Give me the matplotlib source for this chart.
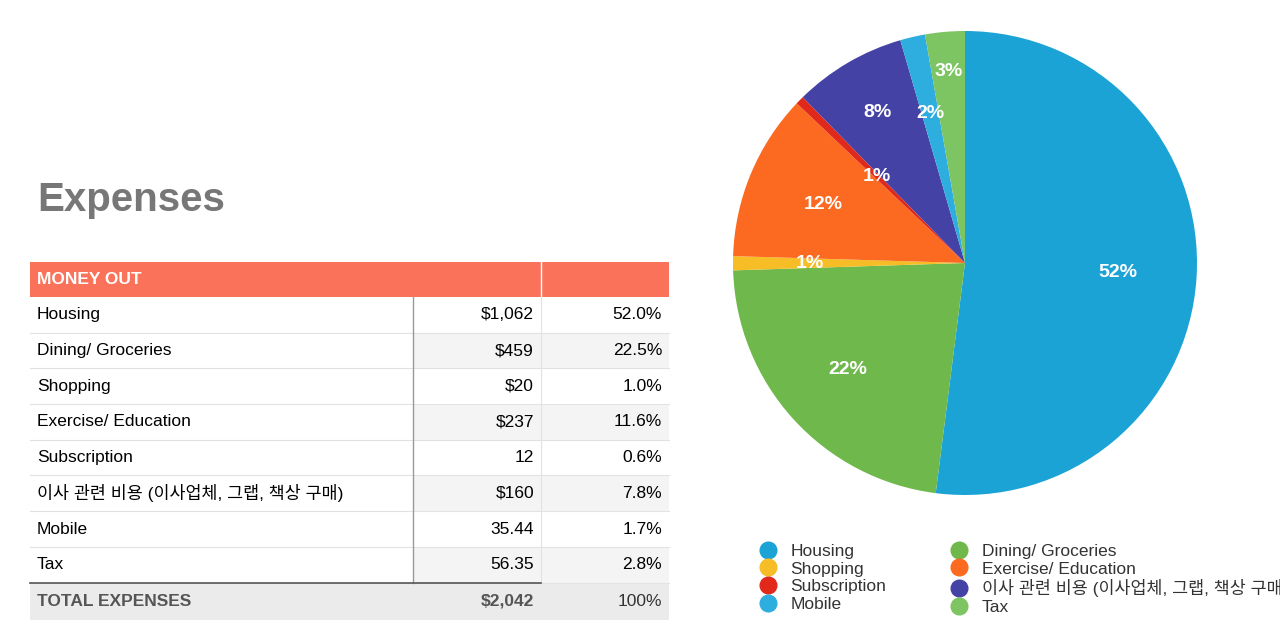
import matplotlib
matplotlib.use("Agg")
import numpy as np
import matplotlib.pyplot as plt
from matplotlib.patches import Rectangle
from matplotlib.lines import Line2D

plt.rcParams['font.family'] = ['Liberation Sans', 'Noto Sans CJK KR']

categories = ['Housing', 'Dining/ Groceries', 'Shopping', 'Exercise/ Education',
              'Subscription', '이사 관련 비용 (이사업체, 그랩, 책상 구매)', 'Mobile', 'Tax']
values = [1062, 459, 20, 237, 12, 160, 35.44, 56.35]
amount_text = ['$1,062', '$459', '$20', '$237', '12', '$160', '35.44', '56.35']
pct_text = ['52.0%', '22.5%', '1.0%', '11.6%', '0.6%', '7.8%', '1.7%', '2.8%']
colors = ['#1ba3d6', '#6fb84b', '#f6bd27', '#fc6a21', '#e0291b', '#4542a6', '#2eaddf', '#7dc462']

fig = plt.figure(figsize=(12.8, 6.42), dpi=100)

# ---- table / title in pixel coordinates ----
tab = fig.add_axes([0, 0, 1, 1])
tab.set_xlim(0, 1280)
tab.set_ylim(642, 0)
tab.axis('off')

tab.text(37, 200, 'Expenses', fontsize=29, fontweight='bold', color='#777777', va='center')

x0, x1, x2, x3 = 30, 413, 541, 669
top = 262
hh = 35
rh = 35.7
tab.add_patch(Rectangle((x0, top), x3 - x0, hh, color='#fb725b', lw=0))
tab.plot([x2, x2], [top, top + hh], color='white', lw=1)
tab.text(x0 + 7, top + hh / 2, 'MONEY OUT', color='white', fontweight='bold',
         fontsize=12.5, va='center')
y = top + hh
for i, (c, a, p) in enumerate(zip(categories, amount_text, pct_text)):
    if i % 2 == 1:
        tab.add_patch(Rectangle((x1, y), x3 - x1, rh, color='#f4f4f4', lw=0))
    tab.plot([x0, x3], [y + rh, y + rh], color='#e2e2e2', lw=0.8)
    tab.text(x0 + 7, y + rh / 2, c, fontsize=12.5, va='center', color='black')
    tab.text(x2 - 7, y + rh / 2, a, fontsize=12.5, va='center', ha='right')
    tab.text(x3 - 7, y + rh / 2, p, fontsize=12.5, va='center', ha='right')
    y += rh
tab.plot([x1, x1], [top + hh, y], color='#999999', lw=1)
tab.plot([x2, x2], [top + hh, y], color='#e2e2e2', lw=0.8)
tab.add_patch(Rectangle((x0, y), x3 - x0, 37, color='#ebebeb', lw=0))
tab.plot([x0, x2], [y, y], color='#555555', lw=1.2)
tab.text(x0 + 7, y + 18.5, 'TOTAL EXPENSES', fontsize=12.5, fontweight='bold',
         va='center', color='#555555')
tab.text(x2 - 7, y + 18.5, '$2,042', fontsize=12.5, fontweight='bold',
         va='center', ha='right', color='#555555')
tab.text(x3 - 7, y + 18.5, '100%', fontsize=12.5, va='center', ha='right', color='#333333')

# ---- pie ----
r = 232
cx, cy = 965, 263
pie_ax = fig.add_axes([(cx - r) / 1280, 1 - (cy + r) / 642, 2 * r / 1280, 2 * r / 642])
wedges, _ = pie_ax.pie(values, colors=colors, startangle=90, counterclock=False)
pie_ax.set_xlim(-1, 1)
pie_ax.set_ylim(-1, 1)
pie_ax.set_aspect('equal')
total = sum(values)
label_r = [0.66, 0.68, 0.67, 0.66, 0.53, 0.75, 0.66, 0.83]
for w, v, lr in zip(wedges, values, label_r):
    ang = np.deg2rad((w.theta1 + w.theta2) / 2)
    pie_ax.text(lr * np.cos(ang), lr * np.sin(ang), f'{v / total * 100:.0f}%',
                color='white', fontweight='bold', fontsize=14, ha='center', va='center')

# legend row-wise: reorder for column fill
order = [0, 2, 4, 6, 1, 3, 5, 7]
handles = [Line2D([], [], marker='o', ls='', markersize=12, color=colors[i]) for i in order]
labels = [categories[i] for i in order]
fig.legend(handles, labels, ncol=2, loc='upper left', bbox_to_anchor=(735 / 1280, 1 - 528 / 642),
           frameon=False, fontsize=12.5, handletextpad=0.3, labelspacing=0.15,
           columnspacing=3.2, labelcolor='#333333')

fig.savefig('out.png', dpi=100)
